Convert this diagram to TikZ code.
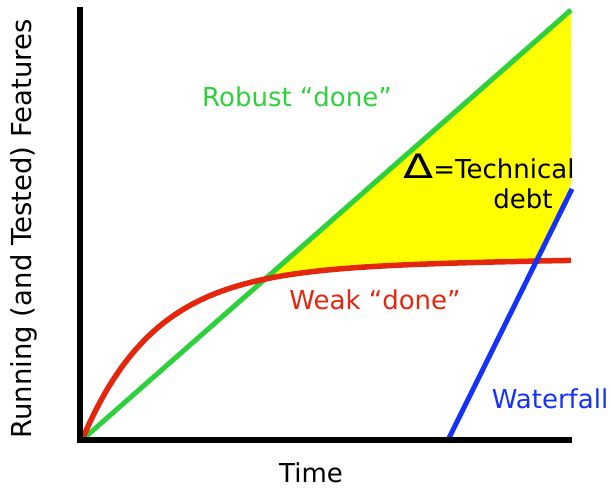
\documentclass[tikz,border=0pt]{standalone}
\usepackage{fontspec}
\setmainfont{DejaVu Sans}
\definecolor{mygreen}{RGB}{46,208,60}
\definecolor{myred}{RGB}{228,38,12}
\definecolor{myblue}{RGB}{20,50,250}
\definecolor{myyellow}{RGB}{255,255,0}
\pgfmathdeclarefunction{weak}{1}{\pgfmathparse{440-172*(1-exp(-0.0137*(#1-82)))-0.016*(#1-82)}}
\begin{document}
\begin{tikzpicture}[x=1pt,y=-1pt,
  ax/.style={line width=6pt, black, line join=miter},
  cur/.style={line width=5pt},
  lbl/.style={font=\fontsize{26}{31}\selectfont, anchor=base, inner sep=0pt}]
\useasboundingbox (0,0) rectangle (611,489);
% technical debt area
\fill[myyellow] (265,{weak(265)}) -- (571,10) -- (571,184) -- (537,{weak(537)})
  -- plot[domain=537:265, samples=60] (\x,{weak(\x)}) -- cycle;
% curves
\coordinate (o) at (82,440);
\coordinate (gend) at (571,10);
\draw[cur, mygreen] (o) -- (gend);
\draw[cur, myred, line width=5.5pt] plot[domain=82:571, samples=150, smooth] (\x,{weak(\x)});
\coordinate (wtop) at (572,189);
\coordinate (wbot) at (448,440);
\draw[cur, myblue] (wbot) -- (wtop);
% axes
\coordinate (ytop) at (80,7);
\coordinate (corner) at (80,440);
\coordinate (xend) at (572,440);
\draw[ax] (ytop) -- (corner) -- (xend);
% labels
\node[lbl, text=mygreen] (robust) at (297,107) {Robust “done”};
\node[lbl, text=myred] (weaklbl) at (375,310) {Weak “done”};
\node[lbl, text=myblue] (water) at (550,408) {Waterfall};
\node[lbl] (time) at (311,482) {Time};
\node[lbl, rotate=90, font=\fontsize{27.5}{32}\selectfont] (ylab) at (31,229) {Running (and Tested) Features};
\node[lbl, anchor=base west] (tech) at (403,179) {\scalebox{1.05}[0.8]{\fontsize{42}{42}\selectfont Δ}=Technical};
\node[lbl] (debt) at (523,209) {debt};
\end{tikzpicture}
\end{document}
